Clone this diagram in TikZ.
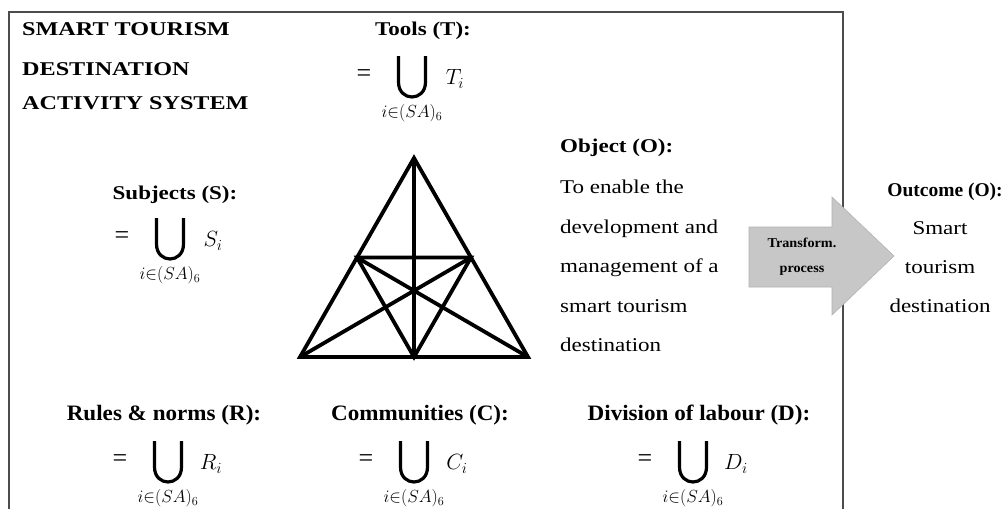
\RequirePackage{fix-cm}
\documentclass[tikz,border=0pt]{standalone}
\usepackage{fontspec}
\setmainfont{Liberation Serif}
\newfontfamily\headfont[FakeStretch=1.18]{Liberation Serif}
\newfontfamily\titlefont[FakeStretch=1.24]{Liberation Serif}
\newfontfamily\labelfont[FakeStretch=1.05]{Liberation Serif}
\usetikzlibrary{calc}

\tikzset{
  head/.style={font=\headfont\bfseries\fontsize{19.5}{23}\selectfont, inner sep=0pt},
  titletext/.style={font=\titlefont\bfseries\fontsize{19.5}{23}\selectfont, inner sep=0pt},
  body/.style={font=\headfont\fontsize{19.5}{23}\selectfont, inner sep=0pt},
  outhead/.style={font=\bfseries\fontsize{19.5}{23}\selectfont, inner sep=0pt},
  lab/.style={font=\labelfont\bfseries\fontsize{22}{26}\selectfont, inner sep=0pt},
  arrowtext/.style={font=\labelfont\bfseries\fontsize{13.5}{16}\selectfont, inner sep=0pt},
  eqsign/.style={font=\fontsize{26}{26}\selectfont, inner sep=0pt},
  mth/.style={font=\fontsize{22}{26}\selectfont, inner sep=0pt},
  mthsub/.style={font=\fontsize{17.5}{19}\selectfont, inner sep=0pt},
  opbig/.style={inner sep=0pt, minimum width=30pt, minimum height=42pt},
  unionstroke/.style={line width=3.2pt, line cap=butt},
  frameline/.style={draw=black!70, line width=1.2pt},
  triline/.style={line width=3.8pt, line join=miter},
  flowarrow/.style={fill=black!22, draw=black!30, line width=0.6pt},
}

% union over i in (SA)_6 of a given set letter, centred on the big operator
\newcommand{\unionset}[4]{%
  \node[opbig] (#1-op) at (#2,#3) {};
  \draw[unionstroke] ($(#1-op)+(-13.5,-21)$) -- ($(#1-op)+(-13.5,5)$)
    .. controls ($(#1-op)+(-13.5,25)$) and ($(#1-op)+(13.5,25)$) .. ($(#1-op)+(13.5,5)$)
    -- ($(#1-op)+(13.5,-21)$);
  \node[eqsign] (#1-eq) at ($(#1-op)+(-48,-1)$) {=};
  \node[mth] (#1-var) at ($(#1-op)+(43,2)$) {$#4_i$};
  \node[mthsub] (#1-lim) at ($(#1-op)+(0,36)$) {$i{\in}(SA)_6$};
}

\begin{document}
\begin{tikzpicture}[x=1pt, y=-1pt]
  \useasboundingbox (0,0) rectangle (1004,509);
  \fill[white] (0,0) rectangle (1004,509);

  % activity system frame (open at the bottom edge)
  \draw[frameline] (9,509) -- (9,12) -- (843,12) -- (843,509);

  % title
  \node[titletext, anchor=base west] (title1) at (22,35) {SMART TOURISM};
  \node[titletext, anchor=base west] (title2) at (22,75) {DESTINATION};
  \node[titletext, anchor=base west] (title3) at (22,109) {ACTIVITY SYSTEM};

  % tools
  \node[head, anchor=base] (tools) at (423,35) {Tools (T):};
  \unionset{tf}{412}{77}{T}

  % subjects
  \node[head, anchor=base] (subjects) at (175,199) {Subjects (S):};
  \unionset{sf}{170}{239}{S}

  % activity triangle
  \coordinate (apex) at (414,158);
  \coordinate (bl) at (300,357);
  \coordinate (br) at (528,357);
  \coordinate (ml) at ($(apex)!0.5!(bl)$);
  \coordinate (mr) at ($(apex)!0.5!(br)$);
  \coordinate (mb) at ($(bl)!0.5!(br)$);
  \draw[triline] (apex) -- (bl) -- (br) -- cycle;
  \draw[triline] (apex) -- (mb);
  \draw[triline] (ml) -- (mr) -- (mb) -- cycle;
  \draw[triline] (ml) -- (br);
  \draw[triline] (mr) -- (bl);

  % object
  \node[head, anchor=base west] (object) at (560,152) {Object (O):};
  \node[body, anchor=base west] (obj1) at (560,193.5) {To enable the};
  \node[body, anchor=base west] (obj2) at (560,233) {development and};
  \node[body, anchor=base west] (obj3) at (560,272.5) {management of a};
  \node[body, anchor=base west] (obj4) at (560,312) {smart tourism};
  \node[body, anchor=base west] (obj5) at (560,351.5) {destination};

  % transformation arrow
  \coordinate (ar1) at (749,227);
  \coordinate (ar2) at (832,227);
  \coordinate (ar3) at (832,197);
  \coordinate (ar4) at (894,256);
  \coordinate (ar5) at (832,315);
  \coordinate (ar6) at (832,287);
  \coordinate (ar7) at (749,287);
  \draw[flowarrow] (ar1) -- (ar2) -- (ar3) -- (ar4) -- (ar5) -- (ar6) -- (ar7) -- cycle;
  \node[arrowtext, anchor=base] (tr1) at (802,247) {Transform.};
  \node[arrowtext, anchor=base] (tr2) at (802,272) {process};

  % outcome
  \node[outhead, anchor=base] (outcome) at (945,196) {Outcome (O):};
  \node[body, anchor=base] (out1) at (940,234) {Smart};
  \node[body, anchor=base] (out2) at (940,273) {tourism};
  \node[body, anchor=base] (out3) at (940,312) {destination};

  % rules, communities, division of labour
  \node[lab, anchor=base] (rules) at (164,420) {Rules \& norms (R):};
  \unionset{rf}{168}{462}{R}
  \node[lab, anchor=base] (comm) at (420,420) {Communities (C):};
  \unionset{cf}{414}{462}{C}
  \node[lab, anchor=base] (div) at (699,420) {Division of labour (D):};
  \unionset{df}{693}{462}{D}
\end{tikzpicture}
\end{document}
